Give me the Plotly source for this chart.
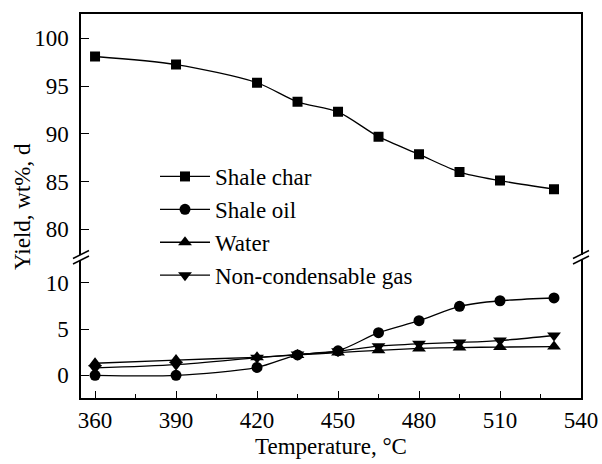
import plotly.graph_objects as go

temperature = [360, 390, 420, 435, 450, 465, 480, 495, 510, 530]
shale_char = [98.1, 97.25, 95.35, 93.35, 92.3, 89.7, 87.85, 86.0, 85.1, 84.2]
shale_oil = [0.0, 0.0, 0.85, 2.2, 2.65, 4.6, 5.9, 7.45, 8.05, 8.35]
water = [1.3, 1.65, 1.95, 2.2, 2.45, 2.7, 2.9, 3.0, 3.05, 3.1]
gas = [0.8, 1.15, 1.9, 2.25, 2.6, 3.15, 3.4, 3.55, 3.75, 4.3]

x_ticks = [360, 390, 420, 450, 480, 510, 540]
y_low_ticks = [0, 5, 10]
y_up_ticks = [80, 85, 90, 95, 100]

FONT = "Liberation Serif"
W, H = 602, 464
L, R, T, B = 81, 21, 14, 66
PW, PH = W - L - R, H - T - B

def px(x):
    return (x - L) / PW

def py(y):
    return (H - B - y) / PH

fig = go.Figure()
line = dict(color="black", width=1.3, shape="spline", smoothing=0.8)
fig.add_trace(go.Scatter(x=temperature, y=shale_char, name="Shale char", mode="lines+markers",
                         line=line, marker=dict(symbol="square", size=10, color="black"),
                         xaxis="x2", yaxis="y2"))
fig.add_trace(go.Scatter(x=temperature, y=shale_oil, name="Shale oil", mode="lines+markers",
                         line=line, marker=dict(symbol="circle", size=11, color="black")))
fig.add_trace(go.Scatter(x=temperature, y=water, name="Water", mode="lines+markers",
                         line=line, marker=dict(symbol="triangle-up", size=12, color="black")))
fig.add_trace(go.Scatter(x=temperature, y=gas, name="Non-condensable gas", mode="lines+markers",
                         line=line, marker=dict(symbol="triangle-down", size=12, color="black")))

low_top, up_bot = 259.5, 254.5
ax_common = dict(showline=True, linecolor="black", linewidth=1.5, showgrid=False, zeroline=False,
                 automargin=False, tickfont=dict(family=FONT, size=23, color="black"))

fig.update_layout(
    width=W, height=H, margin=dict(l=L, r=R, t=T, b=B, autoexpand=False),
    paper_bgcolor="white", plot_bgcolor="white",
    font=dict(family=FONT, size=23, color="black"),
    showlegend=True,
    legend=dict(x=px(155), y=py(155), xanchor="left", yanchor="top",
                bgcolor="rgba(0,0,0,0)", font=dict(family=FONT, size=23, color="black"),
                tracegroupgap=0, itemwidth=50),
    xaxis=dict(**ax_common, range=[354.8, 540], tickvals=x_ticks, ticks="inside", ticklen=7,
               tickwidth=1.3, tickcolor="black", anchor="y", ticklabelstandoff=1,
               minor=dict(dtick=15, tick0=360, ticks="inside", ticklen=4, tickwidth=1.2, tickcolor="black")),
    xaxis2=dict(showline=True, linecolor="black", linewidth=1.5, matches="x", anchor="y2", side="top",
                showticklabels=False, ticks="", showgrid=False, zeroline=False, automargin=False),
    yaxis=dict(**ax_common, domain=[0, py(low_top)], range=[-2.45, 10 + (282.7 - low_top) / 9.26],
               tickvals=y_low_ticks, ticks="inside", ticklen=8, tickwidth=1.3, tickcolor="black",
               mirror=True, anchor="x", ticklabelstandoff=6),
    yaxis2=dict(**ax_common, domain=[py(up_bot), 1], range=[80 - (up_bot - 229.3) / 9.55, 102.55],
                tickvals=y_up_ticks, ticks="inside", ticklen=8, tickwidth=1.3, tickcolor="black",
                mirror=True, anchor="x2", ticklabelstandoff=6),
)

fig.add_annotation(text="Yield, wt%, d", xref="paper", yref="paper", x=px(22), y=py(207),
                   xanchor="center", yanchor="middle",
                   textangle=-90, showarrow=False, font=dict(family=FONT, size=23, color="black"))
fig.add_annotation(text="Temperature, °C", xref="paper", yref="paper", x=px(331), y=py(446),
                   xanchor="center", yanchor="middle",
                   showarrow=False, font=dict(family=FONT, size=23, color="black"))

shapes = []
for cx in (81, 581):
    for y0, y1 in ((258.5, 250.5), (264, 256)):
        shapes.append(dict(type="line", xref="paper", yref="paper",
                           x0=px(cx - 8), y0=py(y0), x1=px(cx + 8), y1=py(y1),
                           line=dict(color="black", width=1.5)))
fig.update_layout(shapes=shapes)

fig.write_html("out.html")
